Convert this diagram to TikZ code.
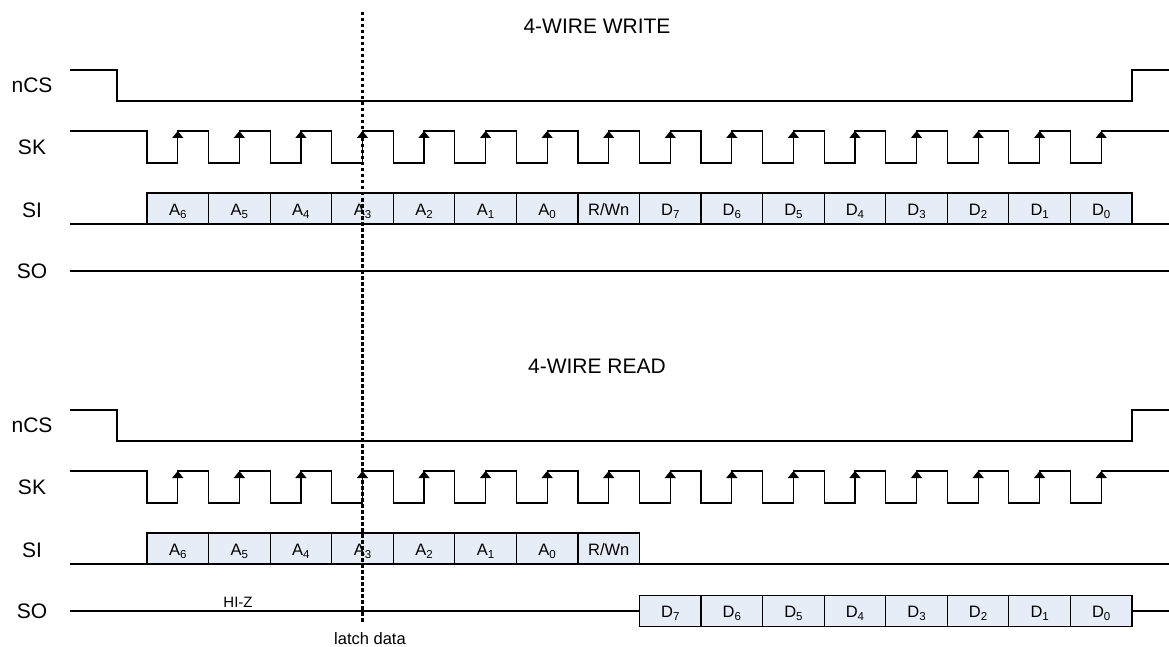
\documentclass[tikz,border=0pt]{standalone}
\usepackage{fontspec}
\setmainfont{Liberation Sans}
\usetikzlibrary{arrows.meta}
\definecolor{boxfill}{RGB}{231,237,247}
\newcommand\bitsub[2]{#1\raisebox{-3pt}{\fontsize{11.5}{11.5}\selectfont #2}}
\newcommand\pstep{61.5625}
\newcommand\wavegroup[3]{%
  \node[ttl] (#1title) at (597,{26+#2}) {#3};
  \node[sig] (#1ncs) at (32,{85+#2}) {nCS};
  \node[sig] (#1sk)  at (32,{147+#2}) {SK};
  \node[sig] (#1si)  at (32,{210+#2}) {SI};
  \node[sig] (#1so)  at (32,{271+#2}) {SO};
  \draw[wave] (70,{70+#2}) -- (117,{70+#2}) -- (117,{101+#2}) -- (1132,{101+#2}) -- (1132,{70+#2}) -- (1169,{70+#2});
  \draw[wave] (70,{131+#2})
    \foreach \k in {0,...,15}{ -- ({147+\k*\pstep},{131+#2}) -- ({147+\k*\pstep},{163+#2})
      -- ({147+(\k+0.5)*\pstep},{163+#2}) -- ({147+(\k+0.5)*\pstep},{131+#2}) }
    -- (1169,{131+#2});
  \foreach \k in {0,...,15}{
    \draw[edge] ({147+(\k+0.5)*\pstep},{150+#2}) -- ({147+(\k+0.5)*\pstep},{131+#2});
  }
}
\begin{document}
\begin{tikzpicture}[x=1pt,y=-1pt,
  wave/.style={line width=1.2pt, line join=miter},
  cell/.style={draw, line width=1.2pt, fill=boxfill, minimum width=61.5625pt,
    minimum height=31pt, inner sep=0pt, text height=13pt, text depth=0pt,
    font=\fontsize{16.5}{18}\selectfont},
  sig/.style={font=\fontsize{21}{24}\selectfont, inner sep=0pt},
  ttl/.style={font=\fontsize{21}{24}\selectfont, inner sep=0pt},
  note/.style={font=\fontsize{16.5}{18}\selectfont, inner sep=0pt},
  edge/.style={line width=1.2pt, -{Triangle[width=11pt,length=7pt]}},
  latch/.style={line width=2.2pt, dash pattern=on 3.5pt off 2.5pt}
]
\useasboundingbox (0,0) rectangle (1169,647);
\fill[white] (0,0) rectangle (1169,647);

% ---------------- 4-WIRE WRITE ----------------
\wavegroup{w}{0}{4-WIRE WRITE}
\draw[wave] (70,224) -- (1169,224);
\foreach \t [count=\i from 0] in {\bitsub{A}{6},\bitsub{A}{5},\bitsub{A}{4},\bitsub{A}{3},\bitsub{A}{2},\bitsub{A}{1},\bitsub{A}{0},R/Wn,\bitsub{D}{7},\bitsub{D}{6},\bitsub{D}{5},\bitsub{D}{4},\bitsub{D}{3},\bitsub{D}{2},\bitsub{D}{1},\bitsub{D}{0}}{
  \node[cell] (wsi\i) at ({147+(\i+0.5)*\pstep},208.5) {\t};
}
\draw[wave] (70,271) -- (1169,271);

% ---------------- 4-WIRE READ ----------------
\wavegroup{r}{340}{4-WIRE READ}
\draw[wave] (70,564) -- (1169,564);
\foreach \t [count=\i from 0] in {\bitsub{A}{6},\bitsub{A}{5},\bitsub{A}{4},\bitsub{A}{3},\bitsub{A}{2},\bitsub{A}{1},\bitsub{A}{0},R/Wn}{
  \node[cell] (rsi\i) at ({147+(\i+0.5)*\pstep},548.5) {\t};
}
\foreach \t [count=\i from 8] in {\bitsub{D}{7},\bitsub{D}{6},\bitsub{D}{5},\bitsub{D}{4},\bitsub{D}{3},\bitsub{D}{2},\bitsub{D}{1},\bitsub{D}{0}}{
  \node[cell] (rso\i) at ({147+(\i+0.5)*\pstep},611) {\t};
}
\coordinate (soL) at (70,611);
\coordinate (soR) at (1169,611);
\draw[wave] (soL) -- (rso8.west);
\draw[wave] (rso15.east) -- (soR);
\node[font=\fontsize{15}{17}\selectfont, inner sep=0pt] (hiz) at (238,602) {HI-Z};

% ---------------- latch line ----------------
\coordinate (ltop) at (362.5,12);
\coordinate (lbot) at (362.5,623);
\draw[latch] (ltop) -- (lbot);
\node[note] (latch) at (370,639) {latch data};
\end{tikzpicture}
\end{document}
